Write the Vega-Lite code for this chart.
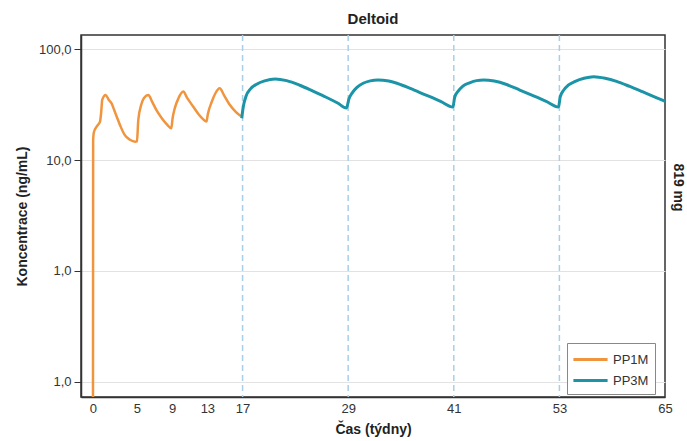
{
  "$schema": "https://vega.github.io/schema/vega-lite/v6.json",
  "width": 584,
  "height": 362,
  "autosize": {"type": "none"},
  "padding": {"left": 81, "top": 35, "right": 22, "bottom": 44},
  "title": {"text": "Deltoid", "fontSize": 15, "fontWeight": "bold", "font": "Liberation Sans", "color": "#222", "offset": 7, "anchor": "middle"},
  "config": {
    "font": "Liberation Sans",
    "view": {"stroke": "#333", "strokeWidth": 1.5},
    "legend": {
      "orient": "none", "legendX": 486, "legendY": 308,
      "strokeColor": "#888", "fillColor": "white", "padding": 6,
      "symbolType": "M-1.9,0H1.9", "symbolSize": 324, "symbolStrokeWidth": 3, "symbolOffset": 7,
      "labelFontSize": 13, "labelColor": "#333", "rowPadding": 3, "labelOffset": 12, "title": null
    }
  },
  "datasets": {
    "inj": [{"week": 17}, {"week": 29}, {"week": 41}, {"week": 53}],
    "pk": [
      {"series": "PP1M", "week": 0.0, "conc": 0.05},
      {"series": "PP1M", "week": 0.02, "conc": 15.2},
      {"series": "PP1M", "week": 0.1, "conc": 17.8},
      {"series": "PP1M", "week": 0.42, "conc": 20.1},
      {"series": "PP1M", "week": 0.8, "conc": 22.3},
      {"series": "PP1M", "week": 0.95, "conc": 28},
      {"series": "PP1M", "week": 1.05, "conc": 35},
      {"series": "PP1M", "week": 1.44, "conc": 38.8},
      {"series": "PP1M", "week": 1.8, "conc": 35},
      {"series": "PP1M", "week": 2.1, "conc": 32.7},
      {"series": "PP1M", "week": 2.4, "conc": 28.5},
      {"series": "PP1M", "week": 2.7, "conc": 24.7},
      {"series": "PP1M", "week": 3.1, "conc": 20.5},
      {"series": "PP1M", "week": 3.6, "conc": 16.9},
      {"series": "PP1M", "week": 4.2, "conc": 15.3},
      {"series": "PP1M", "week": 4.8, "conc": 14.7},
      {"series": "PP1M", "week": 5.0, "conc": 14.8},
      {"series": "PP1M", "week": 5.15, "conc": 23.1},
      {"series": "PP1M", "week": 5.5, "conc": 32},
      {"series": "PP1M", "week": 5.8, "conc": 36.5},
      {"series": "PP1M", "week": 6.3, "conc": 38.8},
      {"series": "PP1M", "week": 6.7, "conc": 34},
      {"series": "PP1M", "week": 7.2, "conc": 28.4},
      {"series": "PP1M", "week": 7.8, "conc": 24},
      {"series": "PP1M", "week": 8.4, "conc": 21},
      {"series": "PP1M", "week": 8.9, "conc": 19.4},
      {"series": "PP1M", "week": 9.05, "conc": 24},
      {"series": "PP1M", "week": 9.3, "conc": 29.5},
      {"series": "PP1M", "week": 9.7, "conc": 36},
      {"series": "PP1M", "week": 10.26, "conc": 41.6},
      {"series": "PP1M", "week": 10.7, "conc": 36.5},
      {"series": "PP1M", "week": 11.4, "conc": 30.4},
      {"series": "PP1M", "week": 12.0, "conc": 26},
      {"series": "PP1M", "week": 12.5, "conc": 23.5},
      {"series": "PP1M", "week": 12.9, "conc": 22.3},
      {"series": "PP1M", "week": 13.05, "conc": 26},
      {"series": "PP1M", "week": 13.5, "conc": 33.7},
      {"series": "PP1M", "week": 13.9, "conc": 40},
      {"series": "PP1M", "week": 14.4, "conc": 44.6},
      {"series": "PP1M", "week": 14.9, "conc": 38.5},
      {"series": "PP1M", "week": 15.5, "conc": 32},
      {"series": "PP1M", "week": 16.2, "conc": 27.5},
      {"series": "PP1M", "week": 16.8, "conc": 25},
      {"series": "PP3M", "week": 16.9, "conc": 23.9},
      {"series": "PP3M", "week": 17.1, "conc": 31},
      {"series": "PP3M", "week": 17.4, "conc": 38},
      {"series": "PP3M", "week": 17.9, "conc": 44},
      {"series": "PP3M", "week": 18.6, "conc": 48.5},
      {"series": "PP3M", "week": 19.5, "conc": 52},
      {"series": "PP3M", "week": 20.7, "conc": 54.2},
      {"series": "PP3M", "week": 22.0, "conc": 52.3},
      {"series": "PP3M", "week": 23.5, "conc": 47.5},
      {"series": "PP3M", "week": 25.0, "conc": 42},
      {"series": "PP3M", "week": 26.5, "conc": 37},
      {"series": "PP3M", "week": 27.8, "conc": 32.8},
      {"series": "PP3M", "week": 28.8, "conc": 29.6},
      {"series": "PP3M", "week": 29.1, "conc": 36},
      {"series": "PP3M", "week": 29.5, "conc": 41},
      {"series": "PP3M", "week": 30.0, "conc": 45.5},
      {"series": "PP3M", "week": 30.7, "conc": 49.5},
      {"series": "PP3M", "week": 31.5, "conc": 52},
      {"series": "PP3M", "week": 32.4, "conc": 53},
      {"series": "PP3M", "week": 33.6, "conc": 51.8},
      {"series": "PP3M", "week": 35.0, "conc": 48},
      {"series": "PP3M", "week": 36.5, "conc": 43},
      {"series": "PP3M", "week": 38.0, "conc": 38.3},
      {"series": "PP3M", "week": 39.5, "conc": 34},
      {"series": "PP3M", "week": 40.9, "conc": 30.2},
      {"series": "PP3M", "week": 41.1, "conc": 37},
      {"series": "PP3M", "week": 41.5, "conc": 42},
      {"series": "PP3M", "week": 42.0, "conc": 46.5},
      {"series": "PP3M", "week": 42.8, "conc": 50},
      {"series": "PP3M", "week": 43.6, "conc": 52.3},
      {"series": "PP3M", "week": 44.4, "conc": 53},
      {"series": "PP3M", "week": 45.6, "conc": 51.8},
      {"series": "PP3M", "week": 47.0, "conc": 48.2},
      {"series": "PP3M", "week": 48.5, "conc": 43},
      {"series": "PP3M", "week": 50.0, "conc": 38.3},
      {"series": "PP3M", "week": 51.5, "conc": 34},
      {"series": "PP3M", "week": 52.9, "conc": 30.2},
      {"series": "PP3M", "week": 53.1, "conc": 37.5},
      {"series": "PP3M", "week": 53.5, "conc": 43},
      {"series": "PP3M", "week": 54.0, "conc": 47.5},
      {"series": "PP3M", "week": 54.8, "conc": 51.5},
      {"series": "PP3M", "week": 55.8, "conc": 55},
      {"series": "PP3M", "week": 56.9, "conc": 56.8},
      {"series": "PP3M", "week": 58.2, "conc": 55},
      {"series": "PP3M", "week": 59.5, "conc": 51.5},
      {"series": "PP3M", "week": 61.0, "conc": 46.3},
      {"series": "PP3M", "week": 62.5, "conc": 41.3},
      {"series": "PP3M", "week": 64.0, "conc": 36.8},
      {"series": "PP3M", "week": 65.0, "conc": 34}
    ]
  },
  "layer": [
    {
      "data": {"name": "inj"},
      "mark": {"type": "rule", "color": "#a9cfe8", "strokeDash": [6, 4], "strokeWidth": 1.5},
      "encoding": {
        "x": {"field": "week", "type": "quantitative",
          "scale": {"domain": [-1.36, 65], "nice": false, "zero": false},
          "axis": {"values": [0, 5, 9, 13, 17, 29, 41, 53, 65], "ticks": false, "grid": false, "domainColor": "#333", "domainWidth": 1.5, "labelFontSize": 13, "labelColor": "#333", "labelPadding": 5, "labelFlush": false, "title": "Čas (týdny)", "titleFontSize": 14, "titleFontWeight": "bold", "titleColor": "#222", "titlePadding": 7}}
      }
    },
    {
      "data": {"name": "pk"},
      "transform": [{"filter": "datum.series === 'PP1M'"}],
      "mark": {"type": "line", "strokeWidth": 2.5, "interpolate": "monotone", "clip": true},
      "encoding": {
        "x": {"field": "week", "type": "quantitative",
          "scale": {"domain": [-1.36, 65], "nice": false, "zero": false},
          "axis": {"values": [0, 5, 9, 13, 17, 29, 41, 53, 65], "ticks": false, "grid": false, "domainColor": "#333", "domainWidth": 1.5, "labelFontSize": 13, "labelColor": "#333", "labelPadding": 5, "labelFlush": false, "title": "Čas (týdny)", "titleFontSize": 14, "titleFontWeight": "bold", "titleColor": "#222", "titlePadding": 7}},
        "y": {"field": "conc", "type": "quantitative",
          "scale": {"type": "log", "domain": [0.0727, 135], "nice": false},
          "axis": {"orient": "left", "values": [0.1, 1, 10, 100], "labelExpr": "datum.value >= 99 ? '100,0' : datum.value >= 9.9 ? '10,0' : '1,0'", "tickSize": 7, "tickColor": "#333", "domainColor": "#333", "domainWidth": 1.5, "labelFontSize": 13, "labelColor": "#333", "labelPadding": 3, "grid": true, "gridColor": "#e2e2e2", "title": "Koncentrace (ng/mL)", "titleFontSize": 14, "titleFontWeight": "bold", "titleColor": "#222", "titlePadding": 9}},
        "color": {"field": "series", "type": "nominal", "scale": {"domain": ["PP1M", "PP3M"], "range": ["#F0943E", "#1B94A8"]}}
      }
    },
    {
      "data": {"name": "pk"},
      "transform": [{"filter": "datum.series === 'PP3M'"}],
      "mark": {"type": "line", "strokeWidth": 3, "interpolate": "monotone", "clip": true},
      "encoding": {
        "x": {"field": "week", "type": "quantitative",
          "scale": {"domain": [-1.36, 65], "nice": false, "zero": false},
          "axis": {"values": [0, 5, 9, 13, 17, 29, 41, 53, 65], "ticks": false, "grid": false, "domainColor": "#333", "domainWidth": 1.5, "labelFontSize": 13, "labelColor": "#333", "labelPadding": 5, "labelFlush": false, "title": "Čas (týdny)", "titleFontSize": 14, "titleFontWeight": "bold", "titleColor": "#222", "titlePadding": 7}},
        "y": {"field": "conc", "type": "quantitative",
          "scale": {"type": "log", "domain": [0.0727, 135], "nice": false},
          "axis": {"orient": "right", "labels": false, "ticks": false, "grid": false, "domain": false, "title": "819 mg", "titleAngle": 90, "titleFontSize": 14, "titleFontWeight": "bold", "titleColor": "#222", "titlePadding": 5, "titleY": 152}},
        "color": {"field": "series", "type": "nominal", "scale": {"domain": ["PP1M", "PP3M"], "range": ["#F0943E", "#1B94A8"]}}
      }
    }
  ],
  "resolve": {"axis": {"y": "independent"}}
}
